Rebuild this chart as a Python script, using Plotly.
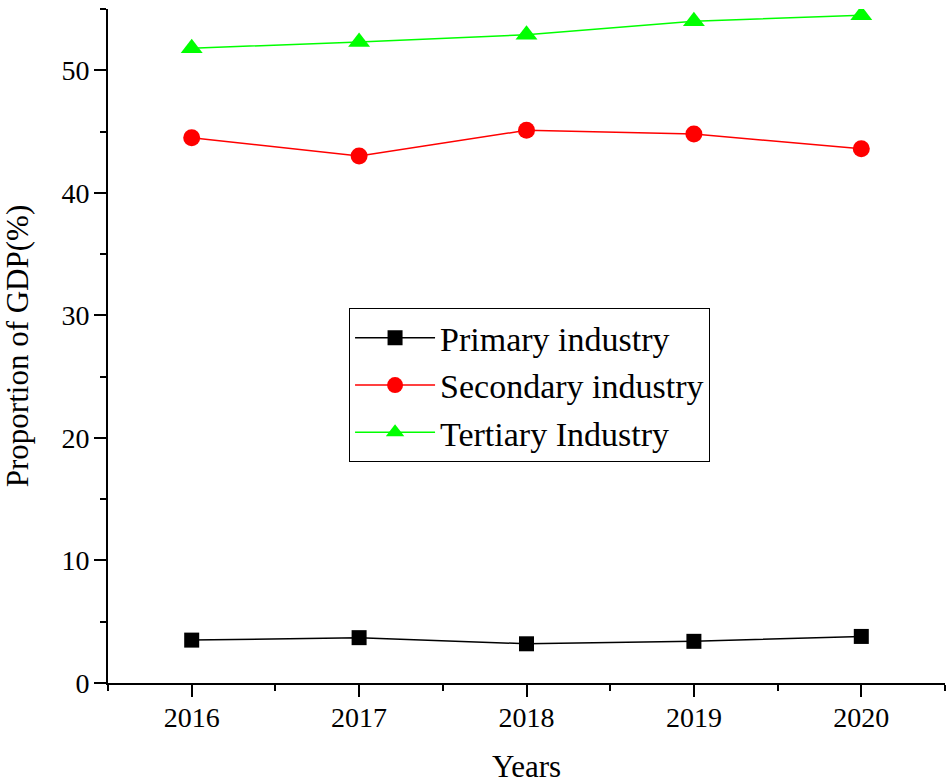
import plotly.graph_objects as go

years = [2016, 2017, 2018, 2019, 2020]
primary = [3.5, 3.7, 3.2, 3.4, 3.8]
secondary = [44.5, 43.0, 45.1, 44.8, 43.6]
tertiary = [51.8, 52.3, 52.9, 54.0, 54.5]

FONT = "Liberation Serif, Times New Roman, serif"

fig = go.Figure()
fig.add_trace(go.Scatter(x=years, y=primary, name="Primary industry", mode="lines+markers",
                         line=dict(color="black", width=1.5),
                         marker=dict(symbol="square", size=15, color="black")))
fig.add_trace(go.Scatter(x=years, y=secondary, name="Secondary industry", mode="lines+markers",
                         line=dict(color="#FF0000", width=1.5),
                         marker=dict(symbol="circle", size=17, color="#FF0000")))
fig.add_trace(go.Scatter(x=years, y=tertiary, name="Tertiary Industry", mode="lines+markers",
                         line=dict(color="#00FF00", width=1.5),
                         marker=dict(symbol="triangle-up", size=19, color="#00FF00")))

fig.update_layout(
    width=952, height=784,
    margin=dict(l=108, r=7, t=9, b=101),
    paper_bgcolor="white", plot_bgcolor="white",
    font=dict(family=FONT, size=28, color="black"),
    showlegend=True,
    legend=dict(x=0.288, y=0.556, xanchor="left", yanchor="top",
                bordercolor="black", borderwidth=1, bgcolor="white",
                font=dict(family=FONT, size=34), itemwidth=80,
                tracegroupgap=0),
    xaxis=dict(range=[2015.5, 2020.5], tick0=2016, dtick=1, automargin=False,
               showgrid=False, zeroline=False,
               showline=True, linecolor="black", linewidth=2,
               ticks="outside", ticklen=12, tickwidth=2, tickcolor="black",
               tickfont=dict(family=FONT, size=28), ticklabelstandoff=-4,
               minor=dict(ticks="outside", tick0=2015.5, dtick=0.5, ticklen=6, tickwidth=2, tickcolor="black", showgrid=False),
               title=dict(text="Years", font=dict(family=FONT, size=31), standoff=30)),
    yaxis=dict(range=[0, 55], tick0=0, dtick=10, automargin=True,
               showgrid=False, zeroline=False,
               showline=True, linecolor="black", linewidth=2,
               ticks="outside", ticklen=12, tickwidth=2, tickcolor="black",
               tickfont=dict(family=FONT, size=28), ticklabelstandoff=-1,
               minor=dict(ticks="outside", tick0=0, dtick=5, ticklen=6, tickwidth=2, tickcolor="black", showgrid=False),
               title=dict(text="Proportion of GDP(%)", font=dict(family=FONT, size=31), standoff=24)),
)
fig.write_html("out.html", config={"displayModeBar": False},
               post_script="document.body.style.margin='0';")
